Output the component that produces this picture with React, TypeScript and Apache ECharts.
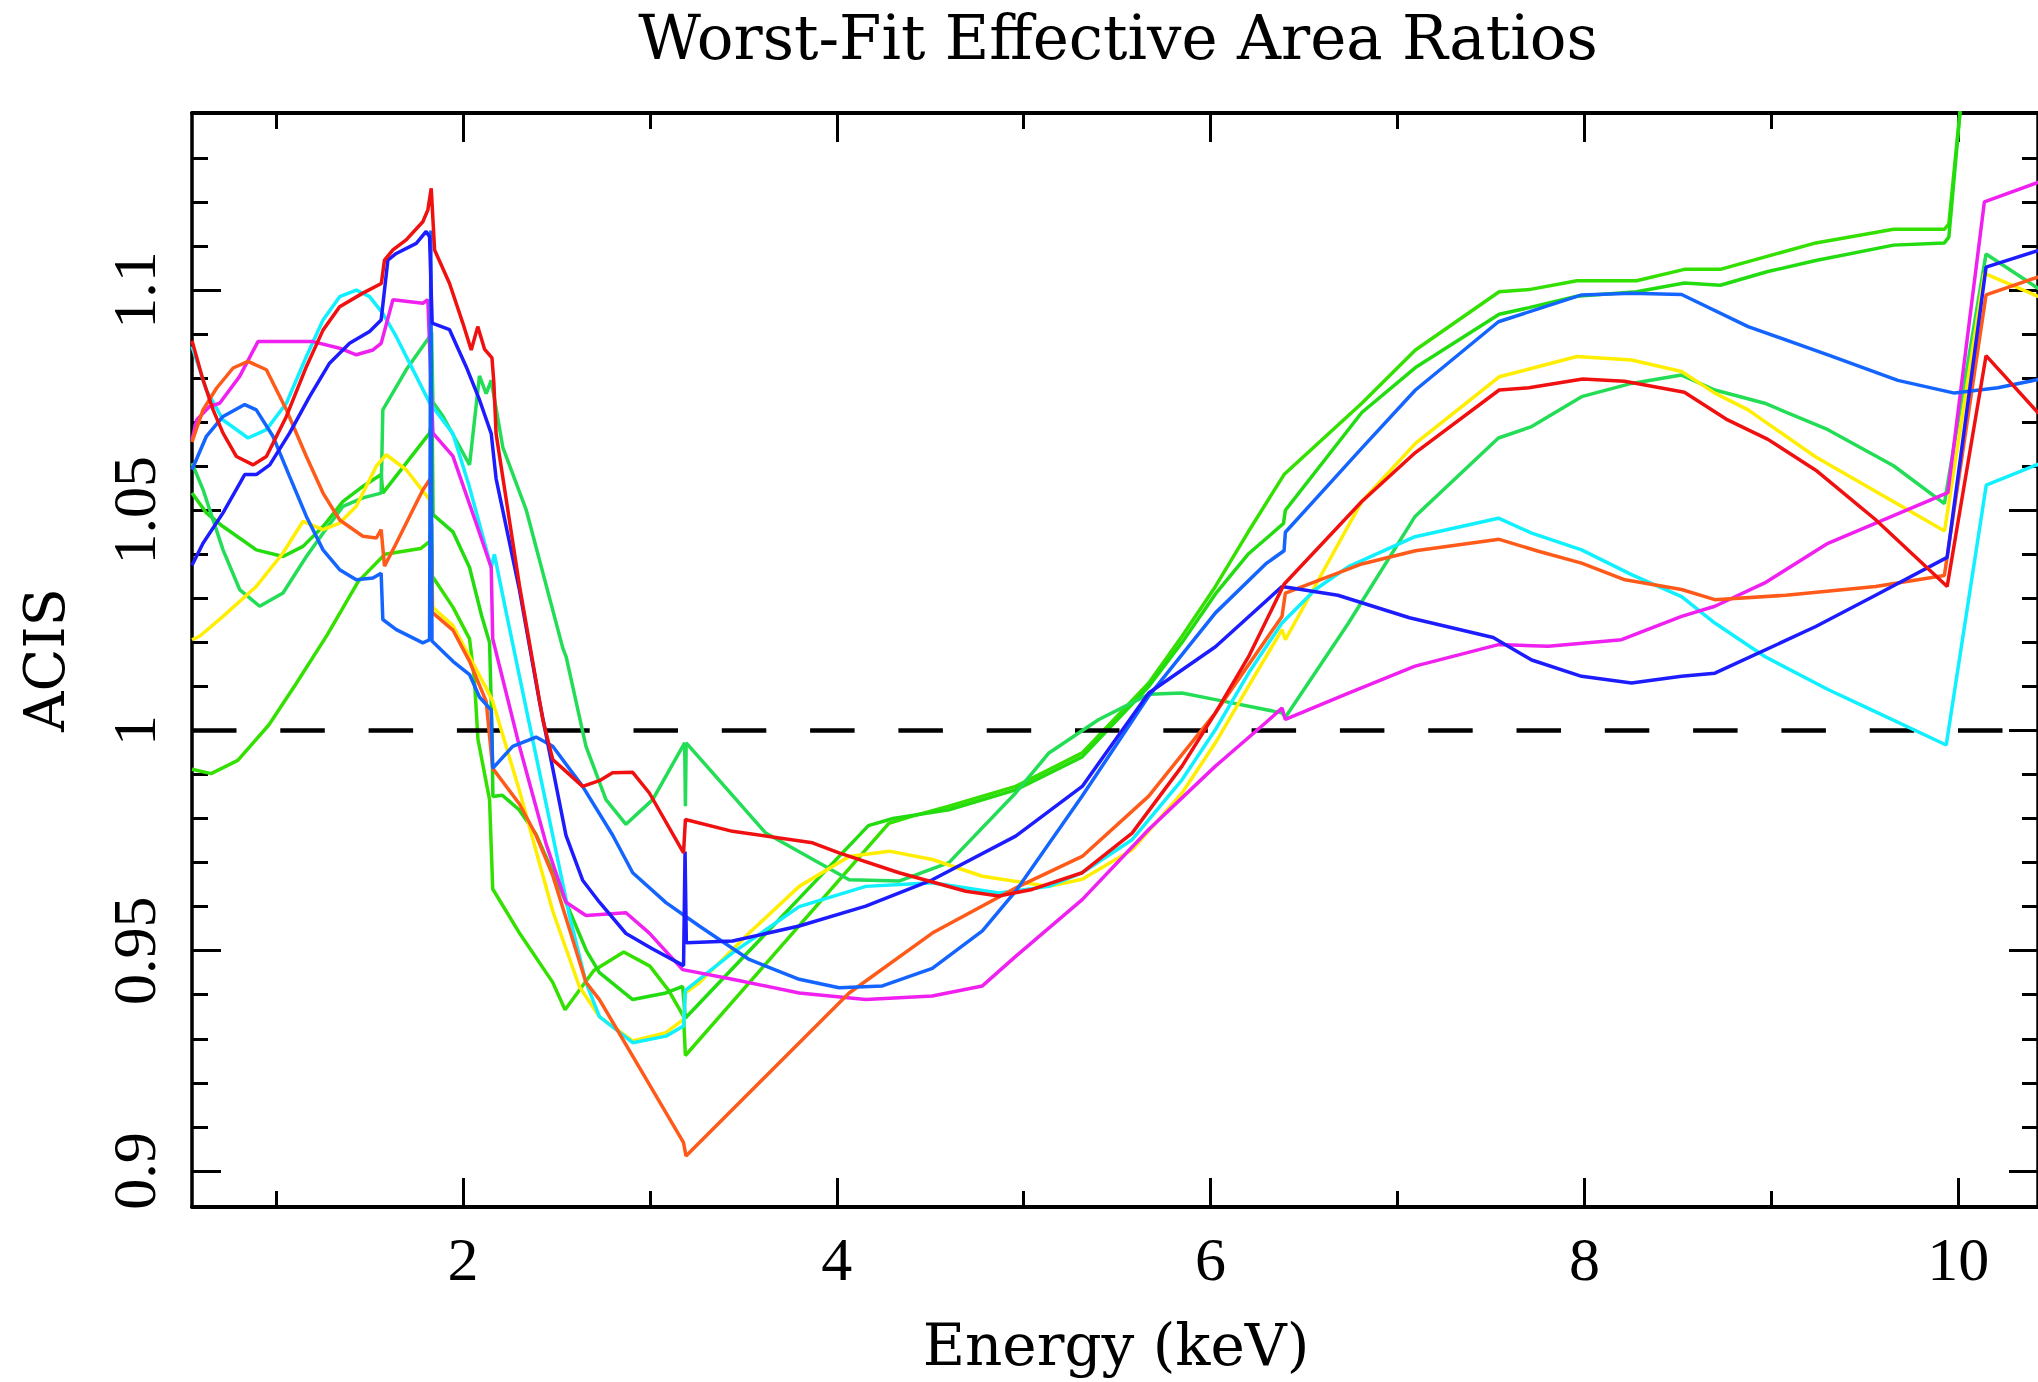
import React, { useEffect, useRef } from "react";
import * as echarts from "echarts";

// ---------- axis ranges & ticks ----------
const X_MIN = 0.55;
const X_MAX = 10.427;
const Y_MIN = 0.8918;
const Y_MAX = 1.1402;
const X_MAJOR = [2, 4, 6, 8, 10];
const X_MINOR = [1, 3, 5, 7, 9];
const Y_MAJOR = [0.9, 0.95, 1, 1.05, 1.1];
const Y_MINOR = [0.91, 0.92, 0.93, 0.94, 0.96, 0.97, 0.98, 0.99, 1.01, 1.02, 1.03, 1.04, 1.06, 1.07, 1.08, 1.09, 1.11, 1.12, 1.13];
const REF_LEVEL = 1;

const TITLE = "Worst-Fit Effective Area Ratios";
const X_NAME = "Energy (keV)";
const Y_NAME = "ACIS";

// ---------- series (energy keV, ratio) ----------
const red = [[0.55,1.0885],[0.609,1.0796],[0.663,1.0728],[0.716,1.0675],[0.788,1.0622],[0.877,1.0603],[0.948,1.0622],[1.055,1.0713],[1.162,1.0826],[1.251,1.0909],[1.34,1.0962],[1.464,1.0993],[1.563,1.1015],[1.58,1.1068],[1.625,1.1091],[1.696,1.1114],[1.785,1.1155],[1.812,1.1182],[1.83,1.1231],[1.848,1.1091],[1.928,1.1015],[1.999,1.0925],[2.044,1.0864],[2.079,1.0917],[2.115,1.0866],[2.155,1.0846],[2.165,1.079],[2.177,1.0674],[2.302,1.0329],[2.427,1.0025],[2.48,0.9934],[2.533,0.9914],[2.64,0.9873],[2.73,0.9886],[2.8,0.9904],[2.908,0.9905],[2.997,0.9858],[3.18,0.9722],[3.19,0.9798],[3.442,0.9771],[3.87,0.9745],[4.012,0.9722],[4.333,0.9677],[4.69,0.9635],[4.867,0.9624],[5.045,0.9639],[5.313,0.9677],[5.58,0.9767],[5.847,0.9919],[6.026,1.004],[6.204,1.0168],[6.393,1.0332],[6.809,1.052],[7.096,1.0631],[7.544,1.0773],[7.703,1.0778],[7.991,1.0798],[8.215,1.0793],[8.535,1.0768],[8.758,1.0707],[8.982,1.0661],[9.238,1.0591],[9.557,1.0479],[9.941,1.0327],[10.149,1.0851],[10.43,1.072]];

const orange = [[0.55,1.0655],[0.609,1.0728],[0.681,1.0777],[0.77,1.0823],[0.85,1.0838],[0.948,1.0819],[1.055,1.0728],[1.162,1.0622],[1.251,1.0539],[1.34,1.0478],[1.464,1.0441],[1.536,1.0437],[1.562,1.0456],[1.58,1.0373],[1.643,1.0425],[1.714,1.0486],[1.785,1.0546],[1.826,1.0572],[1.835,1.0268],[1.946,1.0228],[2.035,1.0157],[2.124,1.0066],[2.159,0.9914],[2.302,0.9833],[2.391,0.9762],[2.48,0.9671],[2.569,0.955],[2.658,0.9428],[2.73,0.9389],[3.18,0.9064],[3.193,0.9034],[3.62,0.9215],[4.066,0.9404],[4.511,0.954],[4.974,0.9646],[5.313,0.9714],[5.669,0.9851],[6.026,1.004],[6.382,1.0259],[6.4,1.0312],[6.809,1.0378],[7.096,1.0408],[7.544,1.0434],[7.754,1.0407],[7.985,1.038],[8.217,1.0342],[8.52,1.032],[8.698,1.0297],[9.078,1.0307],[9.558,1.0327],[9.926,1.0352],[10.149,1.0989],[10.43,1.103]];

const blue = [[0.55,1.0375],[0.609,1.0425],[0.716,1.0494],[0.832,1.0581],[0.894,1.0581],[0.966,1.0603],[1.072,1.0675],[1.179,1.0758],[1.286,1.0834],[1.393,1.0879],[1.5,1.0906],[1.562,1.0932],[1.598,1.1068],[1.643,1.1083],[1.75,1.1106],[1.803,1.1133],[1.821,1.1121],[1.835,1.0925],[1.928,1.091],[2.017,1.0826],[2.088,1.0751],[2.151,1.0674],[2.177,1.0572],[2.302,1.0319],[2.409,1.0066],[2.48,0.9914],[2.551,0.9762],[2.64,0.966],[2.73,0.961],[2.872,0.9539],[3.015,0.9504],[3.18,0.9466],[3.188,0.9725],[3.195,0.9518],[3.442,0.9522],[3.799,0.9556],[4.155,0.9601],[4.511,0.9661],[4.957,0.976],[5.313,0.9873],[5.669,1.0085],[6.026,1.019],[6.382,1.0327],[6.681,1.0307],[7.064,1.0256],[7.512,1.0211],[7.718,1.016],[7.985,1.0123],[8.252,1.0108],[8.52,1.0123],[8.698,1.013],[9.238,1.0236],[9.558,1.0307],[9.941,1.0393],[10.149,1.1052],[10.43,1.109]];

const skyBlue = [[0.55,1.0592],[0.627,1.0668],[0.716,1.0713],[0.832,1.074],[0.894,1.0728],[0.983,1.0668],[1.072,1.0577],[1.162,1.0486],[1.251,1.041],[1.34,1.0365],[1.429,1.0342],[1.518,1.0346],[1.562,1.0357],[1.571,1.0252],[1.643,1.0229],[1.785,1.0199],[1.821,1.0206],[1.828,1.1135],[1.834,1.0203],[1.946,1.0157],[2.035,1.0127],[2.088,1.0076],[2.151,1.0046],[2.159,0.9914],[2.266,0.9964],[2.391,0.9985],[2.48,0.9964],[2.64,0.9873],[2.801,0.9762],[2.908,0.9677],[3.086,0.9609],[3.264,0.9556],[3.531,0.948],[3.799,0.9435],[4.012,0.9416],[4.244,0.942],[4.511,0.946],[4.779,0.9545],[4.957,0.9635],[5.313,0.9851],[5.669,1.0078],[6.026,1.0267],[6.3,1.038],[6.393,1.0408],[6.4,1.045],[6.809,1.0641],[7.096,1.0773],[7.54,1.0928],[7.985,1.0989],[8.252,1.0993],[8.52,1.099],[8.876,1.0917],[9.303,1.0853],[9.677,1.0795],[9.98,1.0766],[10.212,1.0778],[10.43,1.0797]];

const cyan = [[0.55,1.0872],[0.627,1.0773],[0.716,1.0705],[0.85,1.0664],[0.948,1.0683],[1.055,1.0743],[1.162,1.0849],[1.251,1.0932],[1.34,1.0985],[1.429,1.1],[1.5,1.0985],[1.571,1.0947],[1.643,1.0894],[1.75,1.0804],[1.821,1.0744],[1.946,1.0674],[2.035,1.0552],[2.151,1.037],[2.168,1.04],[2.231,1.0268],[2.355,1.0015],[2.48,0.9762],[2.569,0.958],[2.658,0.9428],[2.73,0.935],[2.908,0.9291],[3.086,0.9306],[3.18,0.9329],[3.19,0.941],[3.442,0.9495],[3.799,0.96],[4.155,0.9646],[4.511,0.9654],[4.867,0.9631],[5.135,0.9646],[5.313,0.9677],[5.58,0.9752],[5.847,0.9888],[6.026,1.0002],[6.204,1.0131],[6.382,1.0244],[6.56,1.032],[6.738,1.0372],[7.094,1.044],[7.54,1.0482],[7.718,1.0448],[7.985,1.041],[8.252,1.0354],[8.52,1.0304],[8.698,1.0244],[8.965,1.0168],[9.303,1.0093],[9.499,1.0054],[9.936,0.9967],[10.15,1.0557],[10.43,1.0605]];

const magenta = [[0.55,1.066],[0.575,1.0705],[0.645,1.0736],[0.698,1.0743],[0.805,1.0804],[0.903,1.0883],[1.197,1.0883],[1.34,1.0868],[1.429,1.0853],[1.518,1.0864],[1.562,1.0879],[1.625,1.0978],[1.785,1.097],[1.812,1.0978],[1.839,1.0675],[1.946,1.0623],[2.07,1.0471],[2.151,1.037],[2.159,1.0208],[2.302,0.9964],[2.445,0.9742],[2.551,0.961],[2.658,0.958],[2.872,0.9586],[2.997,0.954],[3.175,0.9457],[3.442,0.9435],[3.799,0.9404],[4.155,0.9389],[4.511,0.9397],[4.779,0.942],[4.957,0.9487],[5.313,0.9616],[5.669,0.9775],[6.026,0.9919],[6.293,1.0017],[6.382,1.0051],[6.4,1.0025],[6.738,1.0085],[7.094,1.0146],[7.54,1.0195],[7.807,1.0191],[8.199,1.0206],[8.52,1.0259],[8.698,1.0282],[8.965,1.0335],[9.303,1.0425],[9.945,1.054],[10.14,1.12],[10.43,1.1245]];

const yellow = [[0.55,1.0206],[0.591,1.0214],[0.716,1.0259],[0.894,1.0327],[1.037,1.0403],[1.144,1.0475],[1.251,1.0456],[1.34,1.0471],[1.429,1.0509],[1.536,1.06],[1.589,1.0626],[1.696,1.0592],[1.821,1.0524],[1.839,1.0279],[1.946,1.0238],[2.035,1.0167],[2.124,1.0096],[2.159,1.0066],[2.302,0.9863],[2.48,0.959],[2.623,0.9418],[2.73,0.935],[2.908,0.9295],[3.086,0.9314],[3.18,0.9344],[3.19,0.9404],[3.264,0.9427],[3.531,0.954],[3.799,0.9646],[4.066,0.9714],[4.28,0.9726],[4.511,0.9707],[4.779,0.9669],[5.135,0.9646],[5.313,0.9662],[5.58,0.9729],[5.847,0.9858],[6.026,0.9972],[6.204,1.0101],[6.382,1.0229],[6.4,1.0206],[6.809,1.052],[7.096,1.0652],[7.544,1.0803],[7.96,1.0849],[8.252,1.0841],[8.52,1.0815],[8.698,1.0766],[8.876,1.0728],[9.238,1.0621],[9.927,1.0453],[10.14,1.1038],[10.43,1.0985]];

const greenA = [[0.55,0.9912],[0.652,0.9902],[0.795,0.9932],[0.962,1.0013],[1.105,1.0105],[1.272,1.0216],[1.439,1.0338],[1.582,1.04],[1.773,1.0413],[1.821,1.0429],[1.832,1.047],[1.836,1.035],[1.946,1.028],[2.035,1.0208],[2.061,1.0116],[2.08,0.998],[2.142,0.9843],[2.159,0.964],[2.302,0.954],[2.48,0.9428],[2.546,0.9366],[2.7,0.9455],[2.86,0.9497],[3.0,0.9465],[3.1,0.941],[3.18,0.9351],[3.19,0.9262],[4.278,0.9789],[4.4,0.9805],[4.6,0.9828],[4.957,0.9873],[5.313,0.9949],[5.669,1.0108],[5.847,1.0214],[6.026,1.0327],[6.2,1.045],[6.393,1.0581],[6.809,1.0743],[7.096,1.0864],[7.544,1.0996],[7.704,1.1001],[7.96,1.1021],[8.279,1.1021],[8.535,1.1047],[8.727,1.1047],[8.982,1.1077],[9.238,1.1107],[9.654,1.1138],[9.926,1.1138],[9.95,1.115],[10.02,1.145],[10.43,1.2]];

const greenB = [[0.55,1.0539],[0.627,1.0494],[0.716,1.0463],[0.894,1.041],[1.037,1.0395],[1.144,1.0418],[1.251,1.0463],[1.358,1.052],[1.464,1.0554],[1.562,1.0581],[1.571,1.0539],[1.696,1.0607],[1.821,1.0675],[1.835,1.07],[1.84,1.049],[1.946,1.0451],[2.035,1.037],[2.1,1.026],[2.142,1.02],[2.155,1.0],[2.16,0.985],[2.21,0.9853],[2.3,0.982],[2.39,0.9765],[2.53,0.9631],[2.66,0.95],[2.73,0.945],[2.908,0.9389],[3.086,0.9404],[3.175,0.9419],[3.19,0.9347],[4.169,0.9784],[4.3,0.98],[4.6,0.982],[4.957,0.9865],[5.313,0.994],[5.669,1.01],[5.847,1.02],[6.026,1.031],[6.2,1.04],[6.39,1.047],[6.4,1.05],[6.809,1.0722],[7.096,1.0824],[7.544,1.0945],[7.704,1.096],[7.96,1.0986],[8.279,1.0996],[8.535,1.1016],[8.727,1.1011],[8.982,1.1042],[9.238,1.1067],[9.654,1.1102],[9.926,1.1107],[9.95,1.112],[10.03,1.15],[10.43,1.2]];

const greenC = [[0.55,1.0607],[0.609,1.0547],[0.716,1.041],[0.805,1.032],[0.912,1.0282],[1.037,1.0312],[1.162,1.0395],[1.251,1.0448],[1.358,1.0509],[1.464,1.0528],[1.562,1.0539],[1.571,1.0728],[1.696,1.0819],[1.821,1.0894],[1.832,1.0905],[1.839,1.0745],[1.892,1.0714],[2.035,1.0603],[2.088,1.0805],[2.124,1.0765],[2.151,1.0795],[2.213,1.0643],[2.338,1.0501],[2.534,1.0187],[2.552,1.0167],[2.658,0.9964],[2.765,0.9843],[2.872,0.9787],[3.015,0.9843],[3.186,0.9972],[3.19,0.9828],[3.194,0.9972],[3.62,0.9767],[4.066,0.9661],[4.333,0.9658],[4.6,0.97],[4.957,0.9858],[5.135,0.9949],[5.402,1.0025],[5.669,1.0082],[5.847,1.0085],[6.026,1.007],[6.382,1.004],[6.4,1.003],[6.738,1.0244],[7.094,1.0486],[7.54,1.0664],[7.718,1.069],[7.985,1.0758],[8.252,1.0788],[8.52,1.0807],[8.698,1.0773],[8.965,1.0743],[9.303,1.0683],[9.654,1.0601],[9.926,1.0515],[10.149,1.1082],[10.43,1.1003]];

const SERIES = [
  { name: "greenA", data: greenA, color: "#33e000" },
  { name: "greenB", data: greenB, color: "#22dc10" },
  { name: "greenC", data: greenC, color: "#22dd55" },
  { name: "yellow", data: yellow, color: "#ffee00" },
  { name: "cyan", data: cyan, color: "#10f0ff" },
  { name: "magenta", data: magenta, color: "#f020f0" },
  { name: "orange", data: orange, color: "#ff5a1a" },
  { name: "skyBlue", data: skyBlue, color: "#1464ff" },
  { name: "blue", data: blue, color: "#1c1cff" },
  { name: "red", data: red, color: "#f01010" },
];

const GRID = { left: 192, top: 113, width: 1848, height: 1094 };
const TICK_FONT = "Liberation Serif";
const TEXT_FONT = "DejaVu Serif";

function xAxisDef(position: "top" | "bottom", ticks: number[], len: number, withLine: boolean, withLabels: boolean) {
  return {
    type: "value",
    min: X_MIN,
    max: X_MAX,
    position,
    axisLine: { show: withLine, onZero: false, lineStyle: { color: "#000", width: 4 } },
    axisTick: { show: true, inside: true, length: len, customValues: ticks, lineStyle: { color: "#000", width: 3 } },
    axisLabel: withLabels
      ? { show: true, customValues: ticks, margin: 21, color: "#000", fontFamily: TICK_FONT, fontSize: 62 }
      : { show: false },
    splitLine: { show: false },
  };
}

function yAxisDef(position: "left" | "right", ticks: number[], len: number, withLine: boolean, withLabels: boolean) {
  return {
    type: "value",
    min: Y_MIN,
    max: Y_MAX,
    position,
    axisLine: { show: withLine, onZero: false, lineStyle: { color: "#000", width: 3.5 } },
    axisTick: { show: true, inside: true, length: len, customValues: ticks, lineStyle: { color: "#000", width: 3 } },
    axisLabel: withLabels
      ? { show: true, customValues: ticks, rotate: 90, margin: 27, color: "#000", fontFamily: TICK_FONT, fontSize: 62 }
      : { show: false },
    splitLine: { show: false },
  };
}

export default function App() {
  const ref = useRef<HTMLDivElement>(null);

  useEffect(() => {
    if (!ref.current) return;
    const chart = echarts.init(ref.current, undefined, { renderer: "svg" });

    const series: any[] = SERIES.map((s, i) => ({
      type: "line",
      name: s.name,
      data: s.data,
      xAxisIndex: 0,
      yAxisIndex: 0,
      showSymbol: false,
      symbol: "none",
      clip: true,
      z: 3 + i,
      lineStyle: { color: s.color, width: 3.5 },
      itemStyle: { color: s.color },
      emphasis: { disabled: true },
    }));
    series[0].markLine = {
      silent: true,
      symbol: "none",
      label: { show: false },
      lineStyle: { color: "#000", width: 4.5, type: [44.5, 43.8] },
      data: [{ yAxis: REF_LEVEL }],
    };

    chart.setOption({
      animation: false,
      backgroundColor: "#ffffff",
      grid: { ...GRID, containLabel: false },
      xAxis: [
        xAxisDef("bottom", X_MAJOR, 29, true, true),
        xAxisDef("top", X_MAJOR, 29, true, false),
        xAxisDef("bottom", X_MINOR, 16, false, false),
        xAxisDef("top", X_MINOR, 16, false, false),
      ],
      yAxis: [
        yAxisDef("left", Y_MAJOR, 29, true, true),
        yAxisDef("right", Y_MAJOR, 29, true, false),
        yAxisDef("left", Y_MINOR, 16, false, false),
        yAxisDef("right", Y_MINOR, 16, false, false),
      ],
      series,
      graphic: [
        {
          type: "text",
          x: 1118,
          y: 37,
          style: { text: TITLE, fill: "#000", font: `61px "${TEXT_FONT}"`, textAlign: "center", textVerticalAlign: "middle", align: "center", verticalAlign: "middle" },
        },
        {
          type: "text",
          x: 1116,
          y: 1345,
          style: { text: X_NAME, fill: "#000", font: `58px "${TEXT_FONT}"`, textAlign: "center", textVerticalAlign: "middle", align: "center", verticalAlign: "middle" },
        },
        {
          type: "text",
          x: 44,
          y: 660,
          rotation: Math.PI / 2,
          style: { text: Y_NAME, fill: "#000", font: `56px "${TEXT_FONT}"`, textAlign: "center", textVerticalAlign: "middle", align: "center", verticalAlign: "middle" },
        },
      ],
    });

    return () => chart.dispose();
  }, []);

  return (
    <div
      ref={ref}
      style={{ position: "absolute", left: 0, top: 0, width: 2038, height: 1382, overflow: "hidden", background: "#fff" }}
    />
  );
}
